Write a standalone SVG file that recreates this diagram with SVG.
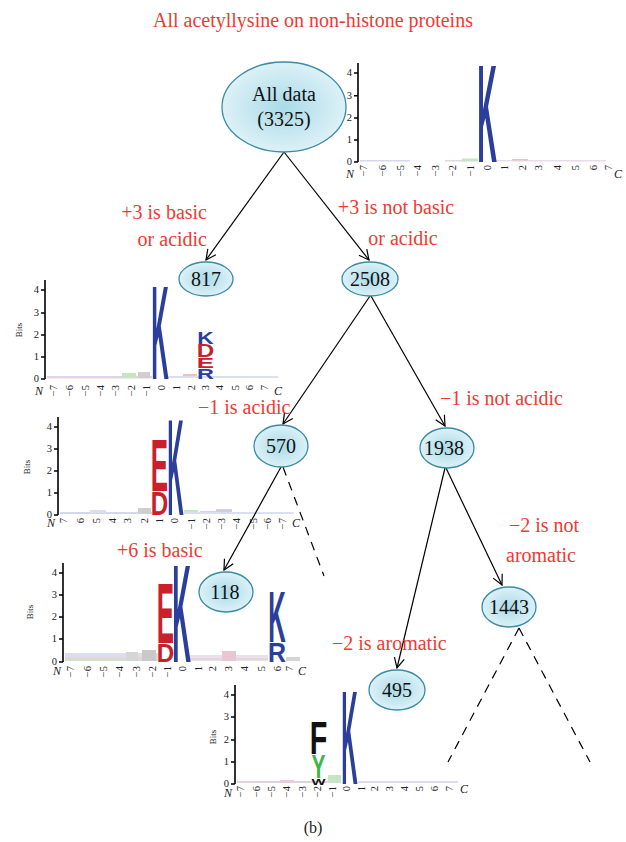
<svg xmlns="http://www.w3.org/2000/svg" width="626" height="842" viewBox="0 0 626 842">
<defs>
<radialGradient id="ng" cx="50%" cy="50%" r="55%">
<stop offset="0" stop-color="#a9dbe9"/>
<stop offset="1" stop-color="#e2f3f8"/>
</radialGradient>
<marker id="ar" viewBox="0 0 12 12" refX="11" refY="6" markerWidth="12" markerHeight="12" markerUnits="userSpaceOnUse" orient="auto">
<path d="M1,1 L11,6 L1,11" fill="none" stroke="#000" stroke-width="1.2"/>
</marker>
</defs>
<style>
.node ellipse{fill:url(#ng);stroke:#3a8ca6;stroke-width:1.3}
.nt{font-family:"Liberation Serif",serif;font-size:20px;fill:#111;text-anchor:middle}
.lab{font-family:"Liberation Serif",serif;font-size:20px;fill:#ec3b34}
.edge{stroke:#000;stroke-width:1.2;fill:none}
.dash{stroke:#000;stroke-width:1.2;fill:none;stroke-dasharray:9 7}
.ax{stroke:#000;stroke-width:1.6;fill:none}
.tn{font-family:"Liberation Serif",serif;font-size:10.5px;fill:#222;text-anchor:end}
.nc{font-family:"Liberation Serif",serif;font-size:12px;font-style:italic;fill:#222}
.bits{font-family:"Liberation Serif",serif;font-size:9px;fill:#222;text-anchor:middle}
.L{font-family:"Liberation Sans",sans-serif;font-weight:bold;font-size:100px;text-anchor:middle}
.b{fill:#2b3e9b}.r{fill:#c9212b}.g{fill:#3db54a}.k{fill:#111}
.nz{opacity:0.35}
</style>
<rect width="626" height="842" fill="#fff"/>
<text x="313" y="27" class="lab" text-anchor="middle">All acetyllysine on non-histone proteins</text>

<!-- Logo 1 (top right) -->
<g id="logo1">
<path class="ax" d="M358,63 V162 M354,73 H358 M354,95.7 H358 M354,118 H358 M354,140 H358 M354,162 H358"/>
<g class="tn"><text x="352" y="76">4</text><text x="352" y="99">3</text><text x="352" y="121">2</text><text x="352" y="143">1</text><text x="352" y="165">0</text></g>
<text class="nc" x="346" y="178">N</text><text class="nc" x="614" y="178">C</text>
<g class="tn">
<text transform="translate(367,165) rotate(-90)">−7</text>
<text transform="translate(386,165) rotate(-90)">−6</text>
<text transform="translate(404,165) rotate(-90)">−5</text>
<text transform="translate(421,165) rotate(-90)">−4</text>
<text transform="translate(439,165) rotate(-90)">−3</text>
<text transform="translate(456,165) rotate(-90)">−2</text>
<text transform="translate(474,165) rotate(-90)">−1</text>
<text transform="translate(491,165) rotate(-90)">0</text>
<text transform="translate(508,165) rotate(-90)">1</text>
<text transform="translate(526,165) rotate(-90)">2</text>
<text transform="translate(542,165) rotate(-90)">3</text>
<text transform="translate(561,165) rotate(-90)">4</text>
<text transform="translate(579,165) rotate(-90)">5</text>
<text transform="translate(597,165) rotate(-90)">6</text>
<text transform="translate(612,165) rotate(-90)">7</text>
</g>
<g class="nz">
<rect x="360" y="160" width="50" height="1.5" fill="#8a8fd0"/>
<rect x="445" y="160" width="22" height="1.5" fill="#999"/>
<rect x="462" y="158.5" width="16" height="3" fill="#5fb55f"/>
<rect x="496" y="160" width="110" height="1.5" fill="#b9a0c0"/>
<rect x="512" y="159" width="16" height="1.5" fill="#c05050"/>
</g>
<text class="L b" transform="translate(487,162) scale(0.273,1.383)">K</text>
</g>

<!-- Logo 2 (817) -->
<g id="logo2">
<path class="ax" d="M45,280 V379 M41,290 H45 M41,313 H45 M41,335 H45 M41,357 H45 M41,379 H45"/>
<g class="tn"><text x="39" y="293">4</text><text x="39" y="316">3</text><text x="39" y="338">2</text><text x="39" y="360">1</text><text x="39" y="382">0</text></g>
<text class="bits" transform="translate(22,330) rotate(-90)">Bits</text>
<text class="nc" x="35" y="395">N</text><text class="nc" x="274" y="395">C</text>
<g class="tn">
<text transform="translate(57,385) rotate(-90)">−7</text>
<text transform="translate(73,385) rotate(-90)">−6</text>
<text transform="translate(89,385) rotate(-90)">−5</text>
<text transform="translate(104,385) rotate(-90)">−4</text>
<text transform="translate(119,385) rotate(-90)">−3</text>
<text transform="translate(135,385) rotate(-90)">−2</text>
<text transform="translate(150,385) rotate(-90)">−1</text>
<text transform="translate(165,385) rotate(-90)">0</text>
<text transform="translate(180,385) rotate(-90)">1</text>
<text transform="translate(195,385) rotate(-90)">2</text>
<text transform="translate(209,385) rotate(-90)">3</text>
<text transform="translate(223,385) rotate(-90)">4</text>
<text transform="translate(239,385) rotate(-90)">5</text>
<text transform="translate(253,385) rotate(-90)">6</text>
<text transform="translate(268,385) rotate(-90)">7</text>
</g>
<g class="nz">
<rect x="47" y="376" width="105" height="2" fill="#8a8fd0"/>
<rect x="47" y="377" width="105" height="1.5" fill="#d08080"/>
<rect x="122" y="373" width="14" height="5" fill="#5fb55f"/>
<rect x="138" y="372" width="12" height="6" fill="#777"/>
<rect x="183" y="374" width="14" height="4" fill="#c05050"/>
<rect x="168" y="376" width="110" height="2" fill="#9aa0d8"/>
</g>
<text class="L b" transform="translate(160,379) scale(0.242,1.341)">K</text>
<text class="L b" transform="translate(205.5,344) scale(0.227,0.168)">K</text>
<text class="L r" transform="translate(205.5,357) scale(0.242,0.182)">D</text>
<text class="L r" transform="translate(205.5,368) scale(0.259,0.154)">E</text>
<text class="L b" transform="translate(205.5,379) scale(0.234,0.154)">R</text>
</g>

<!-- Logo 3 (570) -->
<g id="logo3">
<path class="ax" d="M58,417 V515 M54,427 H58 M54,449 H58 M54,471 H58 M54,493 H58 M54,515 H58"/>
<g class="tn"><text x="52" y="430">4</text><text x="52" y="452">3</text><text x="52" y="474">2</text><text x="52" y="496">1</text><text x="52" y="518">0</text></g>
<text class="bits" transform="translate(30,467) rotate(-90)">Bits</text>
<text class="nc" x="47" y="527">N</text><text class="nc" x="292" y="527">C</text>
<g class="tn">
<text transform="translate(67,518) rotate(-90)">7</text>
<text transform="translate(84,518) rotate(-90)">6</text>
<text transform="translate(100,518) rotate(-90)">5</text>
<text transform="translate(116,518) rotate(-90)">4</text>
<text transform="translate(131,518) rotate(-90)">3</text>
<text transform="translate(148,518) rotate(-90)">2</text>
<text transform="translate(163,518) rotate(-90)">1</text>
<text transform="translate(178,518) rotate(-90)">0</text>
<text transform="translate(195,518) rotate(-90)">−1</text>
<text transform="translate(210,518) rotate(-90)">−2</text>
<text transform="translate(225,518) rotate(-90)">−3</text>
<text transform="translate(240,518) rotate(-90)">−4</text>
<text transform="translate(257,518) rotate(-90)">−5</text>
<text transform="translate(271,518) rotate(-90)">−6</text>
<text transform="translate(286,518) rotate(-90)">−7</text>
</g>
<g class="nz">
<rect x="60" y="512" width="92" height="2" fill="#8a8fd0"/>
<rect x="90" y="510" width="16" height="3" fill="#9aa0d8"/>
<rect x="138" y="508" width="13" height="6" fill="#777"/>
<rect x="184" y="510" width="14" height="4" fill="#5fb55f"/>
<rect x="200" y="511" width="16" height="3" fill="#b07090"/>
<rect x="216" y="509" width="16" height="5" fill="#8a6fa0"/>
<rect x="184" y="512" width="110" height="2" fill="#9aa0d8"/>
</g>
<text class="L r" transform="translate(159.5,491) scale(0.259,0.740)">E</text>
<text class="L r" transform="translate(159.5,515) scale(0.242,0.335)">D</text>
<text class="L b" transform="translate(175.5,515) scale(0.227,1.369)">K</text>
</g>

<!-- Logo 4 (118) -->
<g id="logo4">
<path class="ax" d="M63,563 V662 M59,573 H63 M59,595 H63 M59,617 H63 M59,639 H63 M59,662 H63"/>
<g class="tn"><text x="57" y="576">4</text><text x="57" y="598">3</text><text x="57" y="620">2</text><text x="57" y="642">1</text><text x="57" y="665">0</text></g>
<text class="bits" transform="translate(33,612) rotate(-90)">Bits</text>
<text class="nc" x="53" y="675">N</text><text class="nc" x="298" y="675">C</text>
<g class="tn">
<text transform="translate(74,666) rotate(-90)">−7</text>
<text transform="translate(91,666) rotate(-90)">−6</text>
<text transform="translate(107,666) rotate(-90)">−5</text>
<text transform="translate(123,666) rotate(-90)">−4</text>
<text transform="translate(140,666) rotate(-90)">−3</text>
<text transform="translate(156,666) rotate(-90)">−2</text>
<text transform="translate(171,666) rotate(-90)">−1</text>
<text transform="translate(186,666) rotate(-90)">0</text>
<text transform="translate(202,666) rotate(-90)">1</text>
<text transform="translate(216,666) rotate(-90)">2</text>
<text transform="translate(232,666) rotate(-90)">3</text>
<text transform="translate(248,666) rotate(-90)">4</text>
<text transform="translate(265,666) rotate(-90)">5</text>
<text transform="translate(281,666) rotate(-90)">6</text>
<text transform="translate(293,666) rotate(-90)">7</text>
</g>
<g class="nz">
<rect x="65" y="653" width="93" height="8" fill="#9aa0d8"/>
<rect x="65" y="657" width="93" height="2" fill="#d08080"/>
<rect x="65" y="659" width="93" height="1.5" fill="#5fb55f"/>
<rect x="126" y="652" width="12" height="9" fill="#888"/>
<rect x="142" y="650" width="14" height="11" fill="#666"/>
<rect x="190" y="655" width="78" height="6" fill="#aab0dd"/>
<rect x="190" y="658" width="78" height="2" fill="#d08080"/>
<rect x="222" y="651" width="14" height="10" fill="#c06080"/>
<rect x="286" y="657" width="14" height="4" fill="#888"/>
</g>
<text class="L r" transform="translate(165.5,643) scale(0.259,0.852)">E</text>
<text class="L r" transform="translate(165.5,662) scale(0.242,0.265)">D</text>
<text class="L b" transform="translate(181.5,662) scale(0.258,1.397)">K</text>
<text class="L b" transform="translate(277,642) scale(0.242,0.726)">K</text>
<text class="L b" transform="translate(277,662) scale(0.25,0.279)">R</text>
</g>

<!-- Logo 5 (495) -->
<g id="logo5">
<path class="ax" d="M235,685 V784 M231,695 H235 M231,717 H235 M231,740 H235 M231,762 H235 M231,784 H235"/>
<g class="tn"><text x="229" y="698">4</text><text x="229" y="720">3</text><text x="229" y="743">2</text><text x="229" y="765">1</text><text x="229" y="787">0</text></g>
<text class="bits" transform="translate(216,737) rotate(-90)">Bits</text>
<text class="nc" x="224" y="797">N</text><text class="nc" x="460" y="793">C</text>
<g class="tn">
<text transform="translate(244,786) rotate(-90)">−7</text>
<text transform="translate(260,786) rotate(-90)">−6</text>
<text transform="translate(275,786) rotate(-90)">−5</text>
<text transform="translate(290,786) rotate(-90)">−4</text>
<text transform="translate(306,786) rotate(-90)">−3</text>
<text transform="translate(321,786) rotate(-90)">−2</text>
<text transform="translate(336,786) rotate(-90)">−1</text>
<text transform="translate(350,786) rotate(-90)">0</text>
<text transform="translate(365,786) rotate(-90)">1</text>
<text transform="translate(378,786) rotate(-90)">2</text>
<text transform="translate(393,786) rotate(-90)">3</text>
<text transform="translate(408,786) rotate(-90)">4</text>
<text transform="translate(423,786) rotate(-90)">5</text>
<text transform="translate(438,786) rotate(-90)">6</text>
<text transform="translate(453,786) rotate(-90)">7</text>
</g>
<g class="nz">
<rect x="237" y="781" width="100" height="2" fill="#b080a0"/>
<rect x="280" y="780" width="14" height="3" fill="#c07090"/>
<rect x="328" y="775" width="13" height="8" fill="#5fb55f"/>
<rect x="358" y="781" width="100" height="2" fill="#a0a0d0"/>
</g>
<text class="L k" transform="translate(318.5,754) scale(0.288,0.461)">F</text>
<text class="L g" transform="translate(318.5,778) scale(0.209,0.335)">Y</text>
<text class="L k" transform="translate(318.5,785) scale(0.149,0.084)">W</text>
<text class="L b" transform="translate(349.5,784) scale(0.227,1.341)">K</text>
</g>

<!-- connectors -->
<g id="connectors">
<line class="edge" x1="284" y1="152" x2="206" y2="260" marker-end="url(#ar)"/>
<line class="edge" x1="284" y1="152" x2="369" y2="260" marker-end="url(#ar)"/>
<line class="edge" x1="370" y1="296" x2="283" y2="424" marker-end="url(#ar)"/>
<line class="edge" x1="371" y1="296" x2="445" y2="426" marker-end="url(#ar)"/>
<line class="edge" x1="281" y1="467" x2="224" y2="570" marker-end="url(#ar)"/>
<line class="dash" x1="283" y1="467" x2="324" y2="576"/>
<line class="edge" x1="445" y1="468" x2="397" y2="668" marker-end="url(#ar)"/>
<line class="edge" x1="446" y1="468" x2="502" y2="585" marker-end="url(#ar)"/>
<line class="dash" x1="519" y1="628" x2="448" y2="762"/>
<line class="dash" x1="519" y1="628" x2="590" y2="762"/>
</g>

<!-- edge labels -->
<g id="labels">
<text class="lab" x="207" y="219" text-anchor="end">+3 is basic</text>
<text class="lab" x="207" y="246" text-anchor="end">or acidic</text>
<text class="lab" x="396" y="214" text-anchor="middle">+3 is not basic</text>
<text class="lab" x="403" y="245" text-anchor="middle">or acidic</text>
<text class="lab" x="198" y="414">−1 is acidic</text>
<text class="lab" x="440" y="405">−1 is not acidic</text>
<text class="lab" x="509" y="532">−2 is not</text>
<text class="lab" x="506" y="562">aromatic</text>
<text class="lab" x="117" y="557">+6 is basic</text>
<text class="lab" x="332" y="650">−2 is aromatic</text>
</g>

<!-- nodes -->
<g id="n_all" class="node"><ellipse cx="284" cy="107" rx="62" ry="45"/><text class="nt" x="284" y="101">All data</text><text class="nt" x="284" y="126">(3325)</text></g>
<g id="n817" class="node"><ellipse cx="206" cy="279" rx="27" ry="17"/><text class="nt" x="206" y="286">817</text></g>
<g id="n2508" class="node"><ellipse cx="370" cy="279" rx="28" ry="17"/><text class="nt" x="370" y="286">2508</text></g>
<g id="n570" class="node"><ellipse cx="281" cy="446" rx="27" ry="21"/><text class="nt" x="281" y="453">570</text></g>
<g id="n1938" class="node"><ellipse cx="447" cy="448" rx="27" ry="20"/><text class="nt" x="444" y="455">1938</text></g>
<g id="n118" class="node"><ellipse cx="226" cy="592" rx="27" ry="20"/><text class="nt" x="225" y="599">118</text></g>
<g id="n1443" class="node"><ellipse cx="509" cy="607" rx="27" ry="20"/><text class="nt" x="509" y="614">1443</text></g>
<g id="n495" class="node"><ellipse cx="397" cy="690" rx="28" ry="20"/><text class="nt" x="397" y="697">495</text></g>

<text x="313" y="833" style="font-family:'Liberation Serif',serif;font-size:16px;fill:#222" text-anchor="middle">(b)</text>
</svg>
